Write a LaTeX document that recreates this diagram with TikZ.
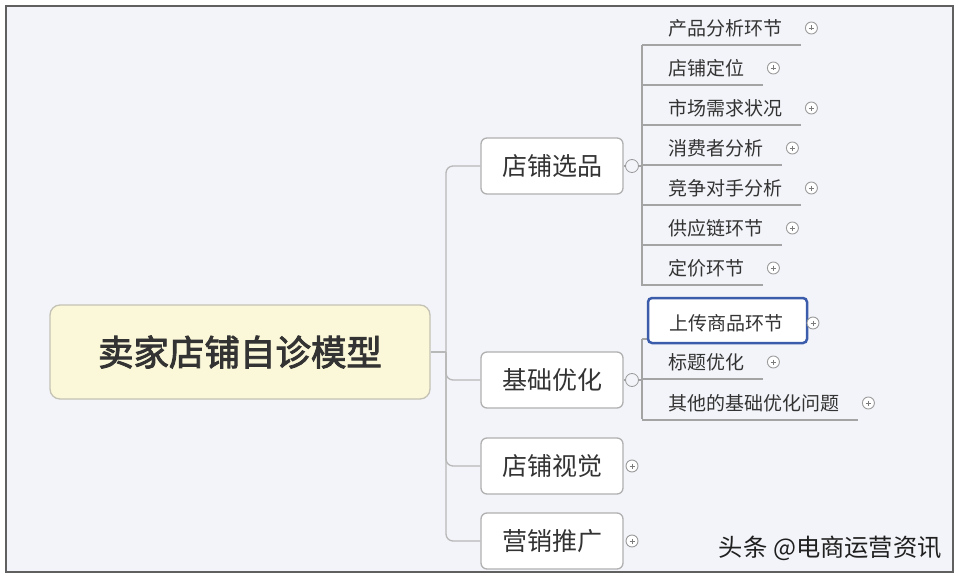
\documentclass[tikz,border=0pt]{standalone}
\usepackage{fontspec}
\usetikzlibrary{calc}
\newfontfamily\cjk[AutoFakeBold=2.5]{Noto Sans CJK SC}
\definecolor{bgc}{HTML}{F3F4F9}
\definecolor{framec}{HTML}{606060}
\definecolor{rootfill}{HTML}{FBF8D9}
\definecolor{rootdraw}{HTML}{C4C2B4}
\definecolor{lonedraw}{HTML}{B0B0B0}
\definecolor{linec}{HTML}{B8B8B8}
\definecolor{ulc}{HTML}{A4A4A4}
\definecolor{circc}{HTML}{9A9A9A}
\definecolor{txtc}{HTML}{333333}
\definecolor{hlc}{HTML}{3B5CAB}
\begin{document}
\begin{tikzpicture}[x=1pt,y=-1pt,
  rootbox/.style={draw=rootdraw, line width=1.3pt, fill=rootfill, rounded corners=10pt,
    minimum width=380pt, minimum height=94pt, inner sep=0pt,
    font=\cjk\bfseries\fontsize{35.5}{36}\selectfont, text=txtc},
  lone/.style={draw=lonedraw, line width=1.3pt, fill=white, rounded corners=6pt,
    minimum width=142pt, minimum height=56pt, inner sep=0pt,
    font=\cjk\fontsize{25}{25}\selectfont, text=txtc},
  ltwo/.style={inner sep=0pt, anchor=west, font=\cjk\fontsize{19}{19}\selectfont, text=txtc},
  conn/.style={draw=linec, line width=1.3pt, rounded corners=7pt},
  uline/.style={draw=ulc, line width=1.3pt},
  pluscirc/.style={circle, draw=circc, fill=white, minimum size=12pt, inner sep=0pt, line width=0.9pt,
    path picture={\draw[circc!80!black, line width=0.9pt]
      ($(path picture bounding box.center)+(-2.5,0)$) -- ($(path picture bounding box.center)+(2.5,0)$)
      ($(path picture bounding box.center)+(0,-2.5)$) -- ($(path picture bounding box.center)+(0,2.5)$);}},
  minuscirc/.style={circle, draw=circc, fill=bgc, minimum size=13pt, inner sep=0pt, line width=0.8pt},
  hlbox/.style={draw=hlc, line width=2.5pt, rounded corners=4pt, fill=white, inner sep=0pt,
    minimum width=159pt, minimum height=45pt},
  wmark/.style={font=\cjk\fontsize{24.3}{25}\selectfont, text=black!88, inner sep=0pt}
]
\useasboundingbox (0,0) rectangle (959,578);
\fill[white] (0,0) rectangle (959,578);
\draw[framec, line width=2.5pt, fill=bgc] (6,6) rectangle (953,572);

% root
\node[rootbox] (root) at (240,352) {卖家店铺自诊模型};

% level 1
\node[lone] (b1) at (552,166) {店铺选品};
\node[lone] (b2) at (552,380) {基础优化};
\node[lone] (b3) at (552,466) {店铺视觉};
\node[lone] (b4) at (552,541) {营销推广};

% trunk
\coordinate (tr) at (446,352);
\draw[conn] (root.east) -- (tr);
\draw[conn] (tr) |- (b1.west);
\draw[conn] (tr) |- (b2.west);
\draw[conn] (tr) |- (b3.west);
\draw[conn] (tr) |- (b4.west);

% level 2, group 1
\node[ltwo] (a1) at (668,28) {产品分析环节};
\node[ltwo] (a2) at (668,68) {店铺定位};
\node[ltwo] (a3) at (668,108) {市场需求状况};
\node[ltwo] (a4) at (668,148) {消费者分析};
\node[ltwo] (a5) at (668,188) {竞争对手分析};
\node[ltwo] (a6) at (668,228) {供应链环节};
\node[ltwo] (a7) at (668,268) {定价环节};
\foreach \n in {a1,a2,a3,a4,a5,a6,a7}{
  \draw[uline] ($(\n.west)+(-26,17)$) -- ($(\n.east)+(19,17)$);
  \node[pluscirc] at ($(\n.east)+(29,0)$) {};
}
\coordinate (v1t) at (642,45);
\coordinate (v1b) at (642,286);
\coordinate (v1m) at (642,166);
\draw[uline] (v1t) -- (v1b);

% level 2, group 2
\coordinate (v2t) at (642,339);
\coordinate (v2b) at (642,419);
\coordinate (v2m) at (642,380);
\draw[uline] (v2t) -- (v2b);
\draw[uline] (v2t) -- (807,339);
\node[hlbox] (hl) at (727.5,320.5) {};
\node[ltwo] (c1) at (669,323) {上传商品环节};
\node[pluscirc] at (813,323) {};
\node[ltwo] (c2) at (668,362) {标题优化};
\node[ltwo] (c3) at (668,403) {其他的基础优化问题};
\foreach \n in {c2,c3}{
  \draw[uline] ($(\n.west)+(-26,17)$) -- ($(\n.east)+(19,17)$);
  \node[pluscirc] at ($(\n.east)+(29,0)$) {};
}

% collapse / expand circles
\node[minuscirc] (m1) at (632,166) {};
\node[minuscirc] (m2) at (632,380) {};
\draw[uline] (b1.east) -- (m1.west);
\draw[uline] (m1.east) -- (v1m);
\draw[uline] (b2.east) -- (m2.west);
\draw[uline] (m2.east) -- (v2m);
\node[pluscirc] (p3) at (632,466) {};
\node[pluscirc] (p4) at (632,541) {};

% watermark
\node[wmark, anchor=east] (wm) at (942,548) {头条 @电商运营资讯};
\end{tikzpicture}
\end{document}
